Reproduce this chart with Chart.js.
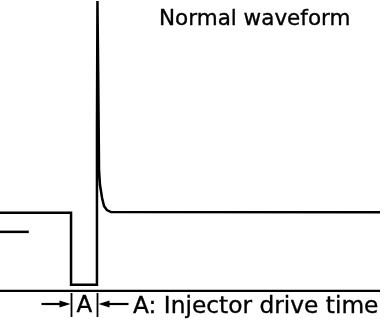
<!DOCTYPE html>
<html>
<head>
<meta charset="utf-8">
<script src="https://cdn.jsdelivr.net/npm/chart.js@4/dist/chart.umd.min.js"></script>
<style>
  html, body { margin: 0; padding: 0; background: #fff; }
  #wrap { position: relative; width: 384px; height: 328px; overflow: hidden; }
  canvas { position: absolute; left: 0; top: 0; }
  .lbl { position: absolute; font-family: "DejaVu Sans", sans-serif; color: #000; line-height: 1; white-space: nowrap; -webkit-text-stroke: 0.35px #000; }
</style>
</head>
<body>
<div id="wrap">
  <canvas id="c" width="384" height="328"></canvas>
  <div class="lbl" id="title"></div>
  <div class="lbl" id="bracketLbl"></div>
  <div class="lbl" id="legendLbl"></div>
</div>
<script>
// ---- data (time in ms, voltage in V) ----
const titleText = "Normal waveform";
const bracketText = "A";
const legendText = "A: Injector drive time";

const traceTime    = [0,    2.22, 2.22, 3.03, 3.03, 3.045, 3.07, 3.095, 3.125, 3.19, 3.25, 3.34, 3.47, 11.875];
const traceVoltage = [14.0, 14.0, 0.0,  0.0,  30.0, 55.2,  40.0, 22.3,  19.4,  16.9, 15.33, 14.55, 14.16, 14.1];

const refTime    = [0, 0.9];
const refVoltage = [10.3, 10.3];

const ruleTime    = [0, 11.875];
const ruleVoltage = [-1.2, -1.2];

const driveStart = 2.22;   // injector drive begins (ms)
const driveEnd   = 3.03;   // injector drive ends (ms)

const toPts = (xs, ys) => xs.map((x, i) => ({ x: x, y: ys[i] }));

const bracketPlugin = {
  id: 'bracket',
  afterDraw(chart) {
    const ctx = chart.ctx;
    const xs = chart.scales.x;
    const x1 = Math.round(xs.getPixelForValue(driveStart)) + 0.5;
    const x2 = Math.round(xs.getPixelForValue(driveEnd)) + 0.5;
    const yTop = 293, yBot = 317, yArrow = 304;
    ctx.save();
    ctx.strokeStyle = '#000';
    ctx.fillStyle = '#000';
    ctx.lineWidth = 1.8;
    ctx.beginPath();
    ctx.moveTo(x1, yTop); ctx.lineTo(x1, yBot);
    ctx.moveTo(x2, yTop); ctx.lineTo(x2, yBot);
    ctx.stroke();
    // left arrow (pointing right)
    ctx.lineWidth = 2.2;
    ctx.beginPath();
    ctx.moveTo(x1 - 30, yArrow); ctx.lineTo(x1 - 9, yArrow);
    ctx.stroke();
    ctx.beginPath();
    ctx.moveTo(x1 - 1, yArrow); ctx.lineTo(x1 - 12, yArrow - 3.5); ctx.lineTo(x1 - 12, yArrow + 3.5);
    ctx.closePath(); ctx.fill();
    // right arrow (pointing left)
    ctx.beginPath();
    ctx.moveTo(x2 + 9, yArrow); ctx.lineTo(x2 + 31, yArrow);
    ctx.stroke();
    ctx.beginPath();
    ctx.moveTo(x2 + 1, yArrow); ctx.lineTo(x2 + 12, yArrow - 3.5); ctx.lineTo(x2 + 12, yArrow + 3.5);
    ctx.closePath(); ctx.fill();
    ctx.restore();

    // position HTML labels
    const b = document.getElementById('bracketLbl');
    b.textContent = bracketText;
    b.style.fontSize = '23px';
    b.style.left = ((x1 + x2) / 2 - b.offsetWidth / 2) + 'px';
    b.style.top = (312 - 0.846 * 23) + 'px';
  }
};

const chart = new Chart(document.getElementById('c'), {
  type: 'scatter',
  data: {
    datasets: [
      { data: toPts(traceTime, traceVoltage), showLine: true, borderColor: '#000', borderWidth: 2.5, pointRadius: 0, tension: 0, borderJoinStyle: 'miter', borderCapStyle: 'butt' },
      { data: toPts(refTime, refVoltage), showLine: true, borderColor: '#000', borderWidth: 2.5, pointRadius: 0 },
      { data: toPts(ruleTime, ruleVoltage), showLine: true, borderColor: '#000', borderWidth: 2.6, pointRadius: 0 }
    ]
  },
  options: {
    responsive: false,
    animation: false,
    events: [],
    layout: { padding: { left: 0, right: 0, top: 0, bottom: 36 } },
    plugins: { legend: { display: false }, tooltip: { enabled: false }, title: { display: false } },
    scales: {
      x: { type: 'linear', display: false, min: 0, max: 12 },
      y: { type: 'linear', display: false, min: -1.4, max: 55.4 }
    },
    elements: { line: { clip: false } }
  },
  plugins: [bracketPlugin]
});

const t = document.getElementById('title');
t.textContent = titleText;
t.style.fontSize = '21.5px';
t.style.left = '159px';
t.style.top = (25 - 0.846 * 21.5) + 'px';

const l = document.getElementById('legendLbl');
l.textContent = legendText;
l.style.fontSize = '23.3px';
l.style.left = '133px';
l.style.top = (312.5 - 0.846 * 23.3) + 'px';
</script>
</body>
</html>
